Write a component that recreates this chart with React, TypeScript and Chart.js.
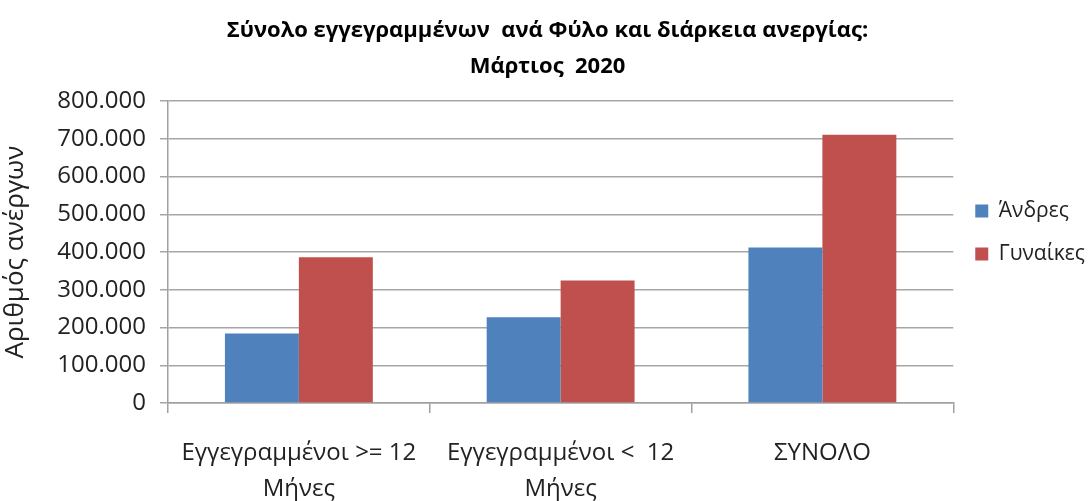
import React, { useEffect, useRef } from "react";
import { Chart, registerables } from "chart.js";

Chart.register(...registerables);

const categories: (string | string[])[] = [
  ["Εγγεγραμμένοι >= 12", "Μήνες"],
  ["Εγγεγραμμένοι <  12", "Μήνες"],
  "ΣΥΝΟΛΟ",
];
const men = [184000, 227000, 412000];
const women = [386000, 325000, 711000];
const seriesNames = ["Άνδρες", "Γυναίκες"];
const titleLines = ["Σύνολο εγγεγραμμένων  ανά Φύλο και διάρκεια ανεργίας:", "Μάρτιος  2020"];
const yTitle = "Αριθμός ανέργων";

const FONT = "'Open Sans', 'DejaVu Sans', sans-serif";
const W = 1125;
const H = 501;

export default function App() {
  const ref = useRef<HTMLCanvasElement | null>(null);
  useEffect(() => {
    if (!ref.current) return;
    const chart = new Chart(ref.current, {
      type: "bar",
      data: {
        labels: categories,
        datasets: [
          { label: seriesNames[0], data: men, backgroundColor: "#4F81BD", borderWidth: 0 },
          { label: seriesNames[1], data: women, backgroundColor: "#C0504D", borderWidth: 0 },
        ],
      },
      options: {
        animation: false,
        responsive: false,
        layout: { padding: { left: 0, right: 30, top: 0, bottom: 0 } },
        datasets: { bar: { categoryPercentage: 0.565, barPercentage: 1 } },
        plugins: {
          title: {
            display: true,
            text: titleLines,
            color: "#000",
            font: { family: FONT, size: 22, weight: "bold", lineHeight: 1.64 },
            padding: { top: 13, bottom: 16 },
          },
          legend: {
            position: "right",
            align: "start",
            title: { display: true, text: "", padding: { top: 164, bottom: 0 } },
            labels: {
              boxWidth: 13,
              boxHeight: 13,
              padding: 22,
              color: "#222",
              font: { family: FONT, size: 21 },
            },
          },
          tooltip: { enabled: false },
        },
        scales: {
          x: {
            grid: {
              drawOnChartArea: false,
              drawTicks: true,
              tickLength: 10,
              color: "#a0a0a0",
              lineWidth: 1.5,
            },
            border: { color: "#a0a0a0", width: 1.5 },
            ticks: {
              color: "#222",
              padding: 22,
              maxRotation: 0,
              autoSkip: false,
              font: { family: FONT, size: 24, lineHeight: 1.5 },
            },
            afterFit: (s: any) => {
              s.height = 98;
            },
          },
          y: {
            min: 0,
            max: 800000,
            ticks: {
              stepSize: 100000,
              color: "#222",
              padding: 14,
              font: { family: FONT, size: 24 },
              callback: (v: any) =>
                Number(v) === 0 ? "0" : Number(v).toLocaleString("de-DE"),
            },
            grid: { color: "#a6a6a6", lineWidth: 1.5, tickLength: 8 },
            border: { color: "#a0a0a0", width: 1.5 },
            title: {
              display: true,
              text: yTitle,
              color: "#222",
              font: { family: FONT, size: 26 },
              padding: { top: 0, bottom: 5 },
            },
            afterFit: (s: any) => {
              s.width = 168;
            },
          },
        },
      },
    });
    return () => chart.destroy();
  }, []);
  return (
    <div
      style={{
        position: "fixed",
        left: 0,
        top: 0,
        width: 1091,
        height: H,
        overflow: "hidden",
        background: "#fff",
      }}
    >
      <canvas ref={ref} width={W} height={H} style={{ display: "block" }} />
    </div>
  );
}
